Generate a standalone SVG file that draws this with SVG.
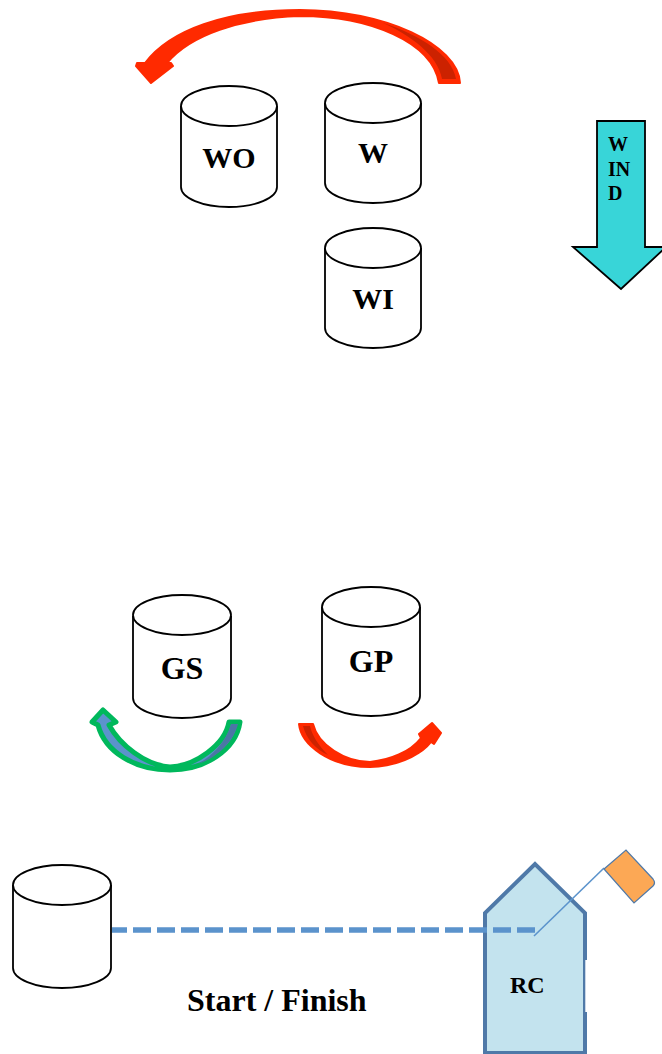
<svg xmlns="http://www.w3.org/2000/svg" width="662" height="1054" viewBox="0 0 662 1054">
<style>
.c{fill:#fff;stroke:#000;stroke-width:1.8}
.t{font-family:"Liberation Serif",serif;font-weight:bold;fill:#000}
.l{font-size:30px;text-anchor:middle}
.r{fill:#ff2a00;stroke:#ff2a00;stroke-width:2;stroke-linejoin:round}
</style>
<rect width="662" height="1054" fill="#fff"/>
<g id="arrow-top">
<path class="r" d="M460 83C458 45 385 10 300 10C225 10 170 30 145 63L137 63L136 66L151 83L173 66L171 63L167 63C190 35 240 18 300 16C370 16 432 42 439 83Z"/>
<path d="M383 23C420 35 452 55 456 79H442C438 55 410 35 383 23Z" fill="#cc2200"/>
</g>
<g id="WO"><path class="c" d="M181 106V187A48 20 0 0 0 277 187V106"/><ellipse class="c" cx="229" cy="106" rx="48" ry="20"/><text class="t l" x="229" y="168">WO</text></g>
<g id="W"><path class="c" d="M325 103V183A48 20 0 0 0 421 183V103"/><ellipse class="c" cx="373" cy="103" rx="48" ry="20"/><text class="t l" x="373" y="163">W</text></g>
<g id="WI"><path class="c" d="M325 248V328A48 20 0 0 0 421 328V248"/><ellipse class="c" cx="373" cy="248" rx="48" ry="20"/><text class="t l" x="373" y="309">WI</text></g>
<g id="wind">
<path d="M597 121H645V247H666L621 289L573 247H597Z" fill="#38d5d8" stroke="#000" stroke-width="1.8"/>
<text class="t" font-size="20" x="608" y="151">W</text>
<text class="t" font-size="20" x="608" y="176">IN</text>
<text class="t" font-size="20" x="608" y="200">D</text>
</g>
<g id="GS"><path class="c" d="M133 616V698A49 20 0 0 0 231 698V616"/><ellipse class="c" cx="182" cy="615" rx="49" ry="20"/><text class="t" font-size="32" text-anchor="middle" x="182" y="679">GS</text></g>
<g id="GP"><path class="c" d="M322 607V696A49 20 0 0 0 420 696V607"/><ellipse class="c" cx="371" cy="607" rx="49" ry="20"/><text class="t" font-size="32" text-anchor="middle" x="371" y="672">GP</text></g>
<g id="arrow-green">
<path d="M240 722C236 750 205 770 170 770C135 770 105 752 98 725L92 722L103 710L116 722L109 725C120 745 145 765 170 767C195 766 225 745 229 722Z" fill="#5b93cc" stroke="#00b85c" stroke-width="5" stroke-linejoin="round"/>
<path d="M238 724C233 745 212 760 198 764C212 756 226 742 231 724Z" fill="#4b76a5"/>
</g>
<g id="arrow-red">
<path class="r" d="M299 724C301 745 330 767 370 767C405 766 425 750 431 742L434 744L441 733L432 723L419 734L421 738C410 752 390 760 370 762C345 762 318 745 313 724Z"/>
<path d="M303 726C306 738 316 750 328 755C318 745 312 735 310 726Z" fill="#cc2200"/>
</g>
<g id="start"><path class="c" d="M13 885V968A49 20 0 0 0 111 968V885"/><ellipse class="c" cx="62" cy="885" rx="49" ry="20"/></g>
<text class="t" font-size="32" x="187" y="1011">Start / Finish</text>
<g id="RC">
<path d="M485 1053V913L535 864L585 913V1053Z" fill="#c3e3ee" stroke="#4f79a8" stroke-width="4"/>
<path d="M586.5 960V1012" fill="none" stroke="#fff" stroke-width="2.4"/>
<text class="t" font-size="24" x="510" y="993">RC</text>
</g>
<g id="connectors">
<path d="M112 930H535" fill="none" stroke="#5b93cc" stroke-width="5.5" stroke-dasharray="18 6" stroke-dashoffset="3"/>
<path d="M534 936L604 868" fill="none" stroke="#5b93cc" stroke-width="1.6"/>
</g>
<g id="flag">
<path d="M604 869L626 850L653 879Q656 883 653 886L634 903Z" fill="#fca855" stroke="#4f79a8" stroke-width="1.2"/>
</g>
</svg>
